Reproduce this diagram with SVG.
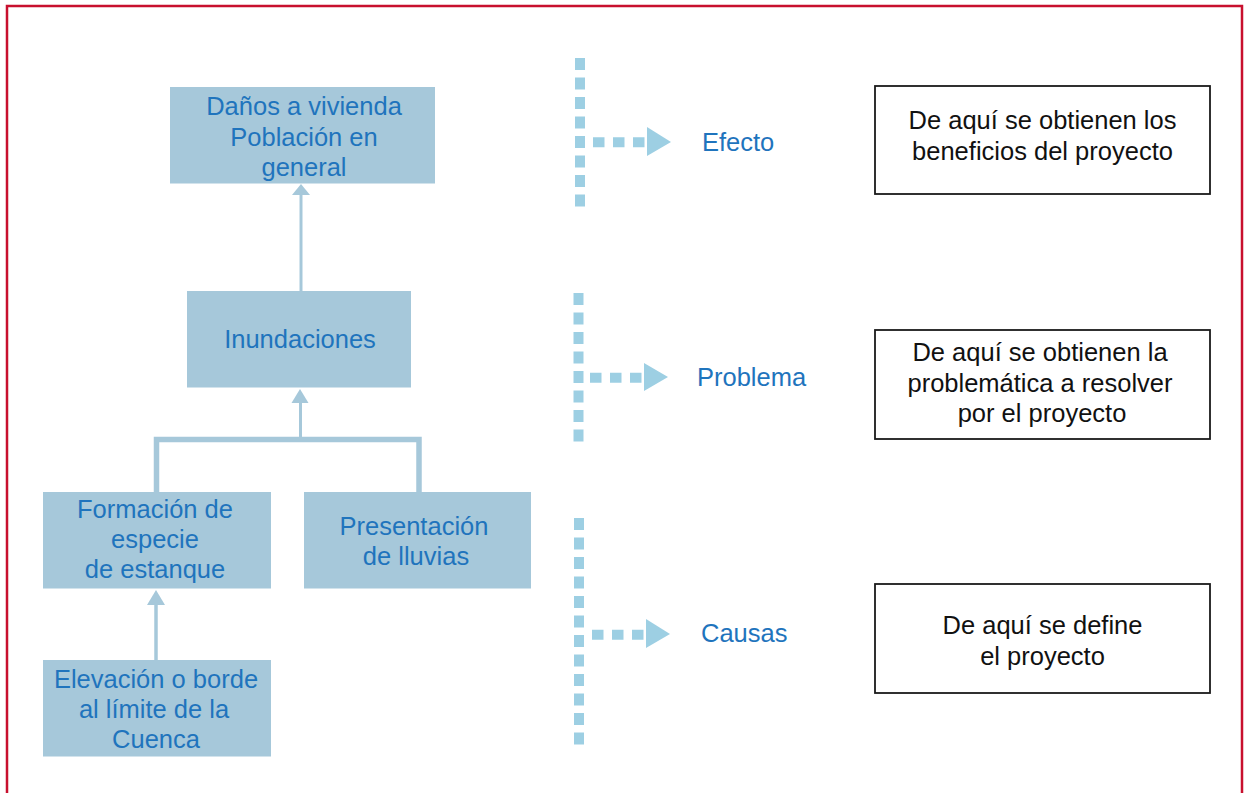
<svg xmlns="http://www.w3.org/2000/svg" width="1246" height="793" viewBox="0 0 1246 793">
<style>
.node{fill:#A6C8DA}
.ntxt{font-family:"Liberation Sans",Arial,sans-serif;font-size:25.5px;fill:#1F74BD;text-anchor:middle}
.lbl{font-family:"Liberation Sans",Arial,sans-serif;font-size:25.5px;fill:#1F74BD}
.box{fill:#fff;stroke:#1a1a1a;stroke-width:1.8}
.btxt{font-family:"Liberation Sans",Arial,sans-serif;font-size:25.5px;fill:#111;text-anchor:middle}
.conn{stroke:#A6C8DA;fill:none}
.head{fill:#A6C8DA}
.vdots{stroke:#9DCFE3;stroke-width:10;stroke-dasharray:12 7.5;fill:none}
.hdots{stroke:#9DCFE3;stroke-width:10;stroke-dasharray:11.5 8.5;fill:none}
.tri{fill:#9DCFE3}
</style>
<rect x="0" y="0" width="1246" height="793" fill="#fff"/>
<rect x="7" y="6" width="1235" height="820" fill="none" stroke="#C8102E" stroke-width="2.5"/>

<g id="connectors">
  <line class="conn" x1="301" y1="291" x2="301" y2="194" stroke-width="3"/>
  <polygon class="head" points="301,184 310,195 292,195"/>
  <path class="conn" d="M156.5,492 V439.5 H419 V492" stroke-width="5.5"/>
  <line class="conn" x1="300.5" y1="439" x2="300.5" y2="402" stroke-width="3"/>
  <polygon class="head" points="300,389 308.5,403 291.5,403"/>
  <line class="conn" x1="156" y1="660" x2="156" y2="604" stroke-width="3.5"/>
  <polygon class="head" points="156,590 165,605 147,605"/>
</g>

<g id="n-danos">
  <rect class="node" x="170" y="87" width="265" height="96.5"/>
  <text class="ntxt" x="304" y="115">Daños a vivienda</text>
  <text class="ntxt" x="304" y="146">Población en</text>
  <text class="ntxt" x="304" y="176">general</text>
</g>
<g id="n-inundaciones">
  <rect class="node" x="187" y="291" width="224" height="96.5"/>
  <text class="ntxt" x="300" y="348">Inundaciones</text>
</g>
<g id="n-formacion">
  <rect class="node" x="43" y="492" width="228" height="96.5"/>
  <text class="ntxt" x="155" y="518">Formación de</text>
  <text class="ntxt" x="155" y="548">especie</text>
  <text class="ntxt" x="155" y="578">de estanque</text>
</g>
<g id="n-presentacion">
  <rect class="node" x="304" y="492" width="227" height="96.5"/>
  <text class="ntxt" x="414" y="535">Presentación</text>
  <text class="ntxt" x="416" y="565">de lluvias</text>
</g>
<g id="n-elevacion">
  <rect class="node" x="43" y="660" width="228" height="96.5"/>
  <text class="ntxt" x="156" y="688">Elevación o borde</text>
  <text class="ntxt" x="154" y="718">al límite de la</text>
  <text class="ntxt" x="156" y="748">Cuenca</text>
</g>

<g id="legend-efecto">
  <line class="vdots" x1="580" y1="58" x2="580" y2="207"/>
  <line class="hdots" x1="593" y1="142.3" x2="645" y2="142.3"/>
  <polygon class="tri" points="647,127 671,142 647,156"/>
  <text class="lbl" x="702" y="150.5">Efecto</text>
</g>
<g id="legend-problema">
  <line class="vdots" x1="578.5" y1="293" x2="578.5" y2="442"/>
  <line class="hdots" x1="590" y1="377.7" x2="642" y2="377.7"/>
  <polygon class="tri" points="644,363 668,377 644,391"/>
  <text class="lbl" x="697" y="386">Problema</text>
</g>
<g id="legend-causas">
  <line class="vdots" x1="579" y1="518" x2="579" y2="745"/>
  <line class="hdots" x1="592" y1="634.7" x2="644" y2="634.7"/>
  <polygon class="tri" points="646,619 670,634 646,648"/>
  <text class="lbl" x="701" y="642">Causas</text>
</g>

<g id="b-beneficios">
  <rect class="box" x="875" y="86" width="335" height="108"/>
  <text class="btxt" x="1042.5" y="129">De aquí se obtienen los</text>
  <text class="btxt" x="1042.5" y="160">beneficios del proyecto</text>
</g>
<g id="b-problematica">
  <rect class="box" x="875" y="330" width="335" height="109"/>
  <text class="btxt" x="1040" y="361">De aquí se obtienen la</text>
  <text class="btxt" x="1040" y="392">problemática a resolver</text>
  <text class="btxt" x="1042" y="422">por el proyecto</text>
</g>
<g id="b-define">
  <rect class="box" x="875" y="584" width="335" height="109"/>
  <text class="btxt" x="1042.5" y="634">De aquí se define</text>
  <text class="btxt" x="1042.5" y="665">el proyecto</text>
</g>
</svg>
